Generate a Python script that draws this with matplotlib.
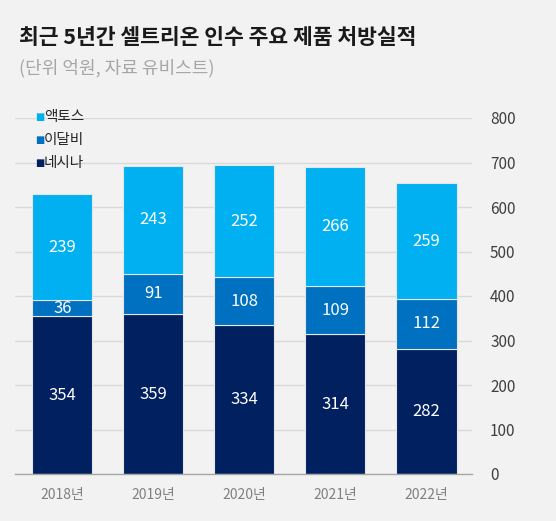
import matplotlib
matplotlib.use("Agg")
import matplotlib.pyplot as plt
import numpy as np

plt.rcParams["font.family"] = ["Noto Sans CJK KR", "DejaVu Sans"]

years = ["2018년", "2019년", "2020년", "2021년", "2022년"]
nesina = [354, 359, 334, 314, 282]
idalbi = [36, 91, 108, 109, 112]
actos = [239, 243, 252, 266, 259]
series_names = ["네시나", "이달비", "액토스"]
colors = ["#002060", "#0070c0", "#00b0f0"]
yticks = list(range(0, 801, 100))

BG = "#f2f2f2"
W, H = 556, 521

fig = plt.figure(figsize=(W / 100, H / 100), dpi=100, facecolor=BG)
ax = fig.add_axes([15 / W, 1 - 474 / H, (472 - 15) / W, (474 - 118) / H])
ax.set_facecolor(BG)

x = np.arange(len(years))
bottom = np.zeros(len(years))
for name, vals, c in zip(series_names, [nesina, idalbi, actos], colors):
    vals = np.array(vals)
    ax.bar(x, vals, width=0.66, bottom=bottom, color=c,
           edgecolor="#e6e6e6", linewidth=0.8, zorder=3)
    for xi, b, v in zip(x, bottom, vals):
        ax.text(xi, b + v / 2, str(v), ha="center", va="center",
                color="white", fontsize=12, fontweight="light", zorder=4)
    bottom += vals

ax.set_xlim(-0.52, 4.5)
ax.set_ylim(0, 800)
ax.set_yticks(yticks)
ax.yaxis.tick_right()
ax.tick_params(axis="y", length=0, pad=13, labelsize=11, labelcolor="#404040")
ax.set_xticks(x)
ax.set_xticklabels(years)
ax.tick_params(axis="x", length=0, pad=10, labelsize=10, labelcolor="#808080")
ax.grid(axis="y", color="#d9d9d9", linewidth=1, zorder=0)
for s in ["top", "right", "left"]:
    ax.spines[s].set_visible(False)
ax.spines["bottom"].set_color("#a6a6a6")
ax.spines["bottom"].set_linewidth(1)
ax.spines["bottom"].set_zorder(5)

# legend (top-left, reversed order)
for i, (name, c) in enumerate(zip(series_names[::-1], colors[::-1])):
    yy = 1 - (117 + i * 23) / H
    fig.text(35 / W, yy, "■", color=c, fontsize=7, va="center", ha="left",
             family=["DejaVu Sans"])
    fig.text(44 / W, yy, name, color="#262626", fontsize=10.5, va="center", ha="left")

fig.text(19 / W, 1 - 37 / H, "최근 5년간 셀트리온 인수 주요 제품 처방실적",
         fontsize=15.5, fontweight="bold", color="#1a1a1a", va="center", ha="left")
fig.text(19 / W, 1 - 68 / H, "(단위 억원, 자료 유비스트)",
         fontsize=13, color="#a6a6a6", va="center", ha="left")

fig.savefig("out.png", dpi=100, facecolor=BG)
